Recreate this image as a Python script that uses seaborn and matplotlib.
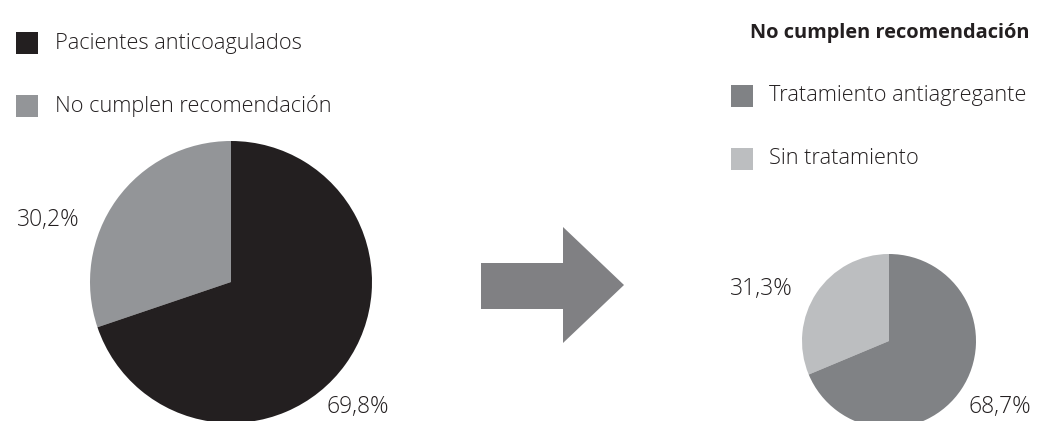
import matplotlib
matplotlib.use("Agg")
import matplotlib.pyplot as plt
from matplotlib.patches import Polygon, Rectangle
import seaborn as sns

# Data
left_labels = ["No cumplen recomendación", "Pacientes anticoagulados"]
left_values = [30.2, 69.8]
left_texts = ["30,2%", "69,8%"]
right_title = "No cumplen recomendación"
right_labels = ["Sin tratamiento", "Tratamiento antiagregante"]
right_values = [31.3, 68.7]
right_texts = ["31,3%", "68,7%"]

sns.set_theme(style="white")
plt.rcParams['font.family'] = ['Open Sans', 'DejaVu Sans']

W, H = 1039, 421
fig = plt.figure(figsize=(W / 100, H / 100), dpi=100)
fig.patch.set_facecolor("white")

left_colors = ["#939598", "#231f20"]
right_colors = ["#bcbec0", "#808285"]


def pix_axes(cx, cy, r):
    return fig.add_axes([(cx - r) / W, (H - cy - r) / H, 2 * r / W, 2 * r / H])


axl = pix_axes(231, 282, 141)
axl.pie(left_values, colors=left_colors, startangle=90, counterclock=True,
        wedgeprops=dict(linewidth=0))
axl.set_xlim(-1, 1); axl.set_ylim(-1, 1); axl.axis("off")

axr = pix_axes(889, 341, 87)
axr.pie(right_values, colors=right_colors, startangle=90, counterclock=True,
        wedgeprops=dict(linewidth=0))
axr.set_xlim(-1, 1); axr.set_ylim(-1, 1); axr.axis("off")

# overlay in pixel coordinates
ov = fig.add_axes([0, 0, 1, 1], facecolor="none")
ov.set_xlim(0, W); ov.set_ylim(H, 0); ov.axis("off")

fs = 15.7
fsp = 16.5
txtc = "#231f20"
lw = "light"
# left legend
for (y, lab, col) in [(43, left_labels[1], left_colors[1]), (106, left_labels[0], left_colors[0])]:
    ov.add_patch(Rectangle((16, y - 11), 22, 22, color=col, lw=0))
    ov.text(55, y, lab, fontsize=fs, va="center", ha="left", color=txtc, fontweight=lw)

# right title + legend
ov.text(1030, 33, right_title, fontsize=14.4, fontweight="bold", va="center", ha="right", color=txtc)
for (y, lab, col) in [(96, right_labels[1], right_colors[1]), (159, right_labels[0], right_colors[0])]:
    ov.add_patch(Rectangle((731, y - 11), 22, 22, color=col, lw=0))
    ov.text(769, y, lab, fontsize=fs, va="center", ha="left", color=txtc, fontweight=lw)

# percentage labels
ov.text(80, 220, left_texts[0], fontsize=fsp, va="center", ha="right", color=txtc, fontweight=lw)
ov.text(327, 407, left_texts[1], fontsize=fsp, va="center", ha="left", color=txtc, fontweight=lw)
ov.text(793, 289, right_texts[0], fontsize=fsp, va="center", ha="right", color=txtc, fontweight=lw)
ov.text(968, 407, right_texts[1], fontsize=fsp, va="center", ha="left", color=txtc, fontweight=lw)

# arrow
arrow = [(481, 263), (563, 263), (563, 227), (624, 285), (563, 343), (563, 309), (481, 309)]
ov.add_patch(Polygon(arrow, closed=True, color="#808083", lw=0))

fig.savefig("out.png", dpi=100, facecolor="white")
